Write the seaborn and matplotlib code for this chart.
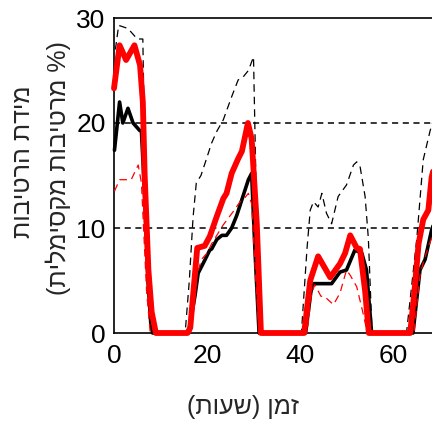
import matplotlib
matplotlib.use("Agg")
import matplotlib.pyplot as plt
import seaborn as sns
import numpy as np
import pandas as pd

sns.set_theme(style="white")
plt.rcParams['font.family'] = ['Liberation Sans', 'DejaVu Sans']

# --- data (hours, moisture %) ---
max_h = [0.3, 1.0, 3.0, 5.0, 6.2, 6.5, 7.5, 8.0, 15.3, 16.2, 17.0, 17.7, 18.7, 19.6, 21.0, 22.1, 23.5,
         25.3, 26.7, 27.8, 28.9, 30.0, 30.5, 31.3, 40.3, 41.5, 42.2, 42.9, 43.9, 44.7, 45.7, 46.8,
         48.2, 50.0, 51.5, 52.2, 52.9, 54.0, 54.7, 55.5, 62.9, 65.1, 66.5, 68.0, 70.0]
max_v = [27.0, 29.3, 29.0, 28.0, 28.0, 20.0, 3.0, 0.0, 0.0, 5.0, 11.0, 14.3, 15.0, 16.2, 18.1, 19.2, 20.3,
         22.5, 24.1, 24.4, 25.0, 26.3, 15.0, 0.0, 0.0, 8.0, 11.7, 12.5, 12.0, 13.3, 11.4, 10.4,
         13.0, 14.1, 16.0, 16.3, 15.9, 13.0, 9.0, 0.0, 0.0, 8.9, 16.5, 19.3, 22.0]

blk_h = [0.1, 1.2, 1.9, 3.0, 4.1, 5.5, 5.9, 6.5, 7.3, 7.9, 8.3, 16.0, 17.4, 18.1, 19.6, 20.6, 21.0,
         22.1, 23.2, 24.2, 25.3, 26.4, 27.5, 28.9, 29.6, 30.3, 31.2, 41.2, 42.3, 42.7, 46.8, 48.6,
         50.0, 51.8, 53.3, 54.3, 55.4, 64.3, 65.8, 66.9, 68.3, 70.0]
blk_v = [17.4, 22.0, 20.0, 21.4, 20.0, 19.3, 19.2, 14.0, 5.0, 1.0, 0.0, 0.0, 3.5, 5.7, 7.0, 7.9, 8.0,
         8.9, 9.3, 9.3, 10.0, 11.2, 12.7, 14.6, 15.2, 8.0, 0.0, 0.0, 3.8, 4.7, 4.7, 5.8,
         6.0, 7.9, 7.6, 6.0, 0.0, 0.0, 6.0, 7.0, 9.8, 12.0]

rdd_h = [0.1, 1.2, 3.7, 5.2, 5.9, 7.0, 7.8, 16.5, 17.5, 18.8, 20.0, 21.0, 22.1, 23.5, 25.7, 27.1, 27.8,
         28.9, 29.6, 30.5, 31.2, 41.5, 42.5, 43.2, 44.5, 45.2, 47.2, 48.6, 50.0, 50.8, 52.2, 53.5,
         54.5, 64.5, 65.8, 66.5, 67.6, 70.0]
rdd_v = [13.5, 14.6, 14.6, 16.0, 14.3, 4.0, 0.0, 0.0, 5.0, 7.0, 7.6, 8.5, 9.3, 10.3, 11.6, 12.5, 12.7,
         13.3, 12.3, 5.0, 0.0, 0.0, 3.8, 4.6, 3.5, 3.5, 2.7, 3.8, 6.0, 5.5, 4.4, 2.0,
         0.0, 0.0, 5.5, 6.7, 8.2, 11.0]

red_h = [0.0, 1.2, 2.6, 4.4, 5.6, 6.2, 6.6, 7.4, 8.1, 9.0, 15.8, 16.4, 17.9, 19.5, 20.6, 22.1, 23.5,
         24.2, 25.3, 26.7, 27.5, 28.8, 29.6, 30.7, 31.6, 40.9, 42.2, 43.9, 46.5, 48.6, 49.7, 50.8,
         52.2, 52.9, 54.0, 54.8, 63.7, 64.7, 65.5, 66.5, 67.6, 68.3, 70.0]
red_v = [23.3, 27.4, 26.0, 27.4, 25.5, 22.0, 15.0, 6.0, 2.0, 0.0, 0.0, 0.5, 8.1, 8.3, 9.2, 11.1, 12.8,
         13.3, 15.2, 16.6, 17.3, 20.0, 18.5, 10.5, 0.0, 0.0, 5.0, 7.3, 5.3, 6.6, 7.6, 9.3,
         8.1, 8.0, 4.0, 0.0, 0.0, 4.4, 8.5, 10.8, 11.7, 14.8, 18.0]

ref_levels = [10, 20]
x_ticks = [0, 20, 40, 60]
y_ticks = [0, 10, 20, 30]

W, H = 432, 423
fig = plt.figure(figsize=(W / 100, H / 100), dpi=100)
ax_left, ax_bottom, ax_top = 114, 333, 18
x_max = 70
px_per_h = 4.65
ax = fig.add_axes([ax_left / W, (H - ax_bottom) / H, x_max * px_per_h / W, (ax_bottom - ax_top) / H])

for lv in ref_levels:
    ax.axhline(lv, color='black', lw=1.1, ls=(0, (4, 3)), zorder=1)

sns.lineplot(x=max_h, y=max_v, ax=ax, color='black', lw=0.9, sort=False, estimator=None,
             dashes=False, zorder=2).lines[-1].set_dashes([6, 4])
l = sns.lineplot(x=blk_h, y=blk_v, ax=ax, color='black', lw=2.6, sort=False, estimator=None, zorder=3).lines[-1]
l2 = sns.lineplot(x=rdd_h, y=rdd_v, ax=ax, color='red', lw=0.9, sort=False, estimator=None, zorder=4).lines[-1]
l2.set_dashes([6, 4])
l3 = sns.lineplot(x=red_h, y=red_v, ax=ax, color='red', lw=4.2, sort=False, estimator=None, zorder=5).lines[-1]
for ln in ax.lines:
    ln.set_clip_on(False)
    ln.set_solid_capstyle('round')
    ln.set_solid_joinstyle('round')
for ln in ax.lines[:2]:
    ln.set_clip_on(True)

ax.set_xlim(0, x_max)
ax.set_ylim(0, 30)
ax.set_xticks(x_ticks)
ax.set_yticks(y_ticks)
ax.tick_params(direction='in', length=3, width=1, labelsize=19, colors='black', pad=6)
ax.tick_params(axis='x', pad=8)
for s in ['left', 'top', 'bottom', 'right']:
    ax.spines[s].set_color('black')
    ax.spines[s].set_linewidth(1.2)
ax.set_xlabel('')
ax.set_ylabel('')

# Hebrew labels (visual order, since matplotlib applies no bidi)
def visual(s):
    mirror = {'(': ')', ')': '('}
    return ''.join(mirror.get(c, c) for c in s[::-1])

fig.text(243 / W, 1 - 407 / H, visual('זמן (שעות)'), ha='center', va='center', fontsize=18)
fig.text(23 / W, 1 - 162 / H, visual('מידת הרטיבות'), ha='center', va='center', fontsize=18, rotation=90)
fig.text(58 / W, 1 - 168 / H, visual('(% מרטיבות מקסימלית)'), ha='center', va='center', fontsize=18, rotation=90)

fig.savefig('out.png', dpi=100)
